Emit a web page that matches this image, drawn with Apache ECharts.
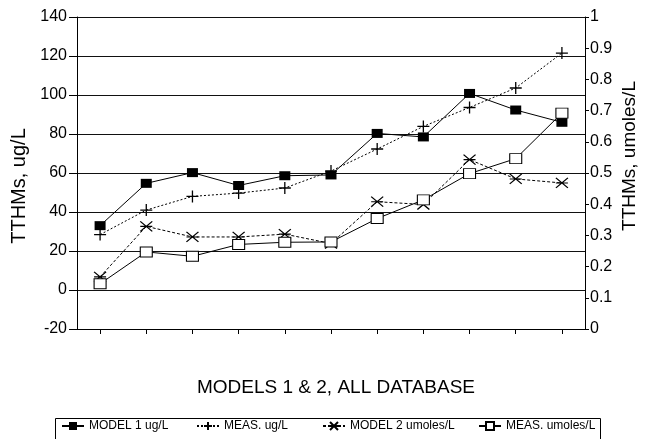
<!DOCTYPE html>
<html><head><meta charset="utf-8">
<script src="https://cdn.jsdelivr.net/npm/echarts@6/dist/echarts.min.js"></script>
<style>html,body{margin:0;padding:0;background:#fff}#c{width:645px;height:439px}</style>
</head><body><div id="c"></div>
<script>
const categories = ['1','2','3','4','5','6','7','8','9','10','11'];
const seriesNames = ['MODEL 1 ug/L','MEAS. ug/L','MODEL 2 umoles/L','MEAS. umoles/L'];
const model1Ug = [33.0,54.7,60.2,53.6,58.6,59.0,80.3,78.5,100.8,92.3,86.0];
const measUg = [28.4,41.0,48.0,49.7,52.3,61.0,72.3,83.9,93.6,103.6,121.5];
const model2Umol = [0.167,0.329,0.295,0.295,0.304,0.274,0.408,0.399,0.543,0.481,0.468];
const measUmol = [0.145,0.247,0.233,0.271,0.278,0.279,0.354,0.414,0.498,0.546,0.692];
const leftAxisName = 'TTHMs, ug/L';
const rightAxisName = 'TTHMs, umoles/L';
const titleText = 'MODELS 1 & 2, ALL DATABASE';

const FF = '"Liberation Sans", Arial, Helvetica, sans-serif';
const INK = '#000';
const plusPath = 'path://M5,0L5,10M0,5L10,5';
const starPath = 'path://M0,0L10,10M10,0L0,10M0,5L10,5';

const chart = echarts.init(document.getElementById('c'), null, {renderer:'canvas'});
function legendAt(name, left){
  return {data:[name], left:left, top:415, itemWidth:22, itemHeight:10, itemGap:0,
    textStyle:{fontFamily:FF, fontSize:12, color:INK}, selectedMode:false};
}
chart.setOption({
  animation:false,
  backgroundColor:'#fff',
  grid:{left:77, right:60, top:17, bottom:110, containLabel:false},
  xAxis:{type:'category', data:categories, boundaryGap:true,
    axisLine:{onZero:false, lineStyle:{color:INK, width:1}},
    axisTick:{show:true, alignWithLabel:true, length:5, lineStyle:{color:INK}},
    axisLabel:{show:false}, splitLine:{show:false}},
  yAxis:[
    {type:'value', min:-20, max:140, interval:20, position:'left',
      axisLine:{show:true, lineStyle:{color:INK, width:1}},
      axisTick:{show:true, length:8, lineStyle:{color:INK}},
      axisLabel:{margin:10, fontFamily:FF, fontSize:16, color:INK},
      splitLine:{show:true, lineStyle:{color:'#111', width:1}}},
    {type:'value', min:0, max:1, interval:0.1, position:'right',
      axisLine:{show:true, lineStyle:{color:INK, width:1}},
      axisTick:{show:true, length:4, lineStyle:{color:INK}},
      axisLabel:{margin:5, fontFamily:FF, fontSize:16, color:INK},
      splitLine:{show:false}}
  ],
  legend:[legendAt(seriesNames[0],56), legendAt(seriesNames[1],191), legendAt(seriesNames[2],317), legendAt(seriesNames[3],473)],
  series:[
    {name:seriesNames[0], type:'line', yAxisIndex:0, data:model1Ug,
      symbol:'rect', symbolSize:[11,9],
      itemStyle:{color:'#000'}, lineStyle:{color:INK, width:1, type:'solid'}},
    {name:seriesNames[1], type:'line', yAxisIndex:0, data:measUg,
      symbol:plusPath, symbolSize:12,
      itemStyle:{color:'transparent', borderColor:'#000', borderWidth:1.3}, lineStyle:{color:INK, width:1, type:[2,2]}},
    {name:seriesNames[2], type:'line', yAxisIndex:1, data:model2Umol,
      symbol:starPath, symbolSize:[12,10],
      itemStyle:{color:'transparent', borderColor:'#000', borderWidth:1.2}, lineStyle:{color:INK, width:1, type:[3,2]}},
    {name:seriesNames[3], type:'line', yAxisIndex:1, data:measUmol,
      symbol:'rect', symbolSize:[12,10],
      itemStyle:{color:'#fff', borderColor:'#000', borderWidth:1}, lineStyle:{color:INK, width:1, type:'solid'}}
  ],
  graphic:[
    {type:'text', x:19, y:186, rotation:Math.PI/2,
      style:{text:leftAxisName, fontFamily:FF, fontSize:20, fill:INK, align:'center', verticalAlign:'middle'}},
    {type:'text', x:630, y:156, rotation:Math.PI/2,
      style:{text:rightAxisName, fontFamily:FF, fontSize:19, fill:INK, align:'center', verticalAlign:'middle'}},
    {type:'text', x:336, y:388,
      style:{text:titleText, fontFamily:FF, fontSize:19, fill:INK, align:'center', verticalAlign:'middle'}},
    {type:'rect', shape:{x:55.5, y:418.5, width:545, height:30},
      style:{fill:'none', stroke:INK, lineWidth:1}, z:-1}
  ]
});
</script></body></html>
